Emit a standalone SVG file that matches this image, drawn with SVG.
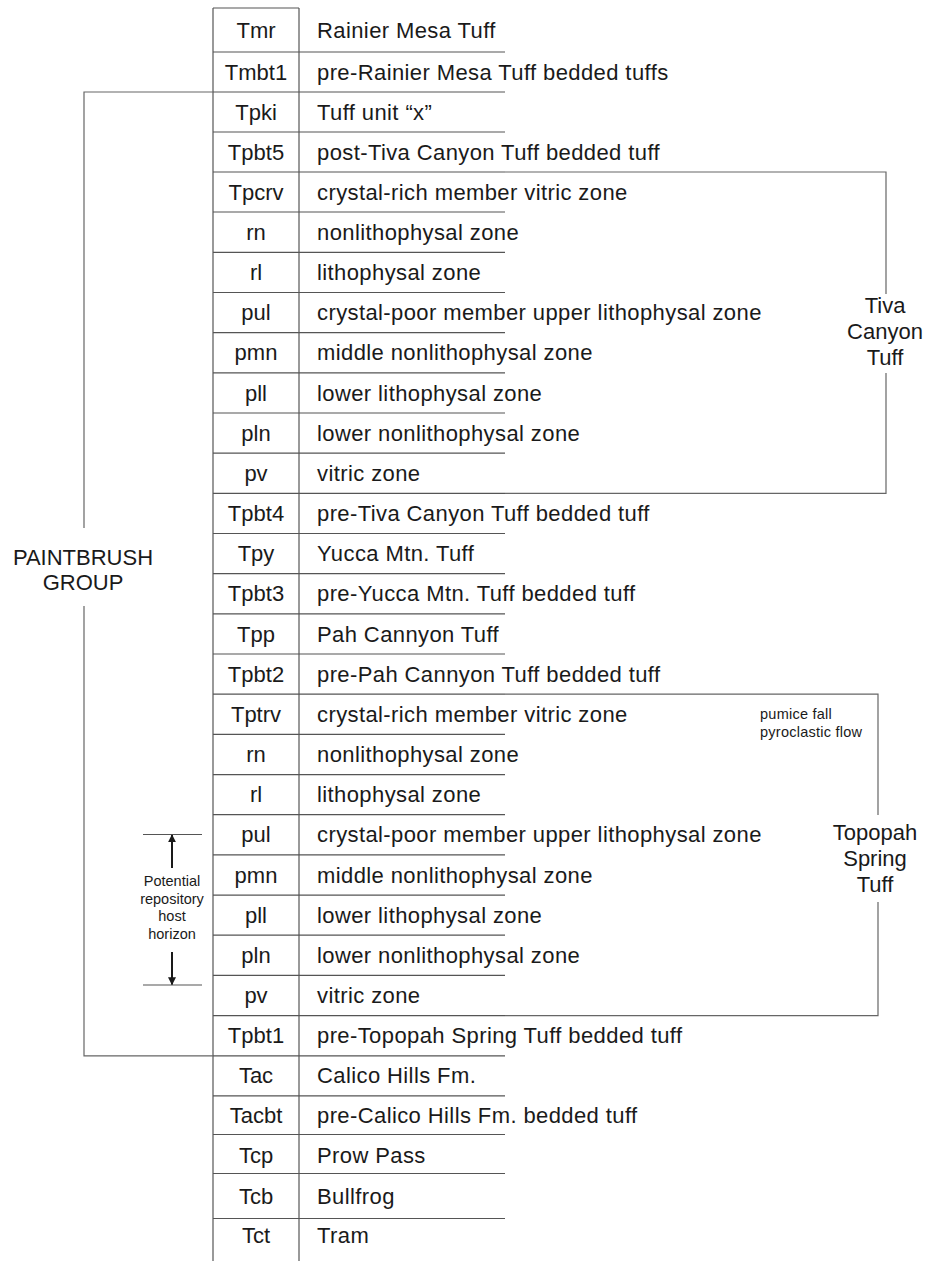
<svg xmlns="http://www.w3.org/2000/svg" width="928" height="1261" viewBox="0 0 928 1261">
<defs>
<style>
text{font-family:"Liberation Sans",Arial,sans-serif;fill:#1a1a1a}
.t{font-size:22px}
.c{text-anchor:middle}
.d text:nth-child(2){letter-spacing:0.4px}
.s{font-size:14.5px}
.p{letter-spacing:0.25px}
.ln{stroke:#555;stroke-width:1.2;fill:none}
.br{stroke:#666;stroke-width:1.2;fill:none}
</style>
<marker id="ah" viewBox="0 0 10 10" refX="9" refY="5" markerWidth="8" markerHeight="8" markerUnits="userSpaceOnUse" orient="auto"><path d="M0,0 L10,5 L0,10 Z" fill="#1a1a1a"/></marker>
</defs>
<rect width="928" height="1261" fill="#fff"/>
<g id="table-frame" class="ln">
<line x1="213" y1="8" x2="299" y2="8"/>
<line x1="213" y1="8" x2="213" y2="1261"/>
<line x1="299" y1="8" x2="299" y2="1261"/>
</g>
<g id="row-lines" class="ln">
<line x1="213" y1="52" x2="505" y2="52"/>
<line x1="213" y1="92" x2="505" y2="92"/>
<line x1="213" y1="132" x2="505" y2="132"/>
<line x1="213" y1="172" x2="505" y2="172"/>
<line x1="213" y1="212" x2="505" y2="212"/>
<line x1="213" y1="252.4" x2="505" y2="252.4"/>
<line x1="213" y1="292.5" x2="505" y2="292.5"/>
<line x1="213" y1="332.7" x2="505" y2="332.7"/>
<line x1="213" y1="372.9" x2="505" y2="372.9"/>
<line x1="213" y1="413" x2="505" y2="413"/>
<line x1="213" y1="453.2" x2="505" y2="453.2"/>
<line x1="213" y1="493.4" x2="505" y2="493.4"/>
<line x1="213" y1="533.5" x2="505" y2="533.5"/>
<line x1="213" y1="573.7" x2="505" y2="573.7"/>
<line x1="213" y1="613.9" x2="505" y2="613.9"/>
<line x1="213" y1="654" x2="505" y2="654"/>
<line x1="213" y1="694.2" x2="505" y2="694.2"/>
<line x1="213" y1="734.4" x2="505" y2="734.4"/>
<line x1="213" y1="774.6" x2="505" y2="774.6"/>
<line x1="213" y1="814.7" x2="505" y2="814.7"/>
<line x1="213" y1="854.9" x2="505" y2="854.9"/>
<line x1="213" y1="895.1" x2="505" y2="895.1"/>
<line x1="213" y1="935.2" x2="505" y2="935.2"/>
<line x1="213" y1="975.4" x2="505" y2="975.4"/>
<line x1="213" y1="1015.6" x2="505" y2="1015.6"/>
<line x1="213" y1="1055.8" x2="505" y2="1055.8"/>
<line x1="213" y1="1095.9" x2="505" y2="1095.9"/>
<line x1="213" y1="1134.5" x2="505" y2="1134.5"/>
<line x1="213" y1="1173.5" x2="505" y2="1173.5"/>
<line x1="213" y1="1218.5" x2="505" y2="1218.5"/>
</g>
<g id="rows" class="t d">
<g id="r-Tmr"><text class="c" x="256" y="37.5">Tmr</text><text x="317" y="37.5">Rainier Mesa Tuff</text></g>
<g id="r-Tmbt1"><text class="c" x="256" y="79.5">Tmbt1</text><text x="317" y="79.5">pre-Rainier Mesa Tuff bedded tuffs</text></g>
<g id="r-Tpki"><text class="c" x="256" y="119.5">Tpki</text><text x="317" y="119.5">Tuff unit “x”</text></g>
<g id="r-Tpbt5"><text class="c" x="256" y="159.5">Tpbt5</text><text x="317" y="159.5">post-Tiva Canyon Tuff bedded tuff</text></g>
<g id="r-Tpcrv"><text class="c" x="256" y="199.5">Tpcrv</text><text x="317" y="199.5">crystal-rich member vitric zone</text></g>
<g id="r-tc-rn"><text class="c" x="256" y="240">rn</text><text x="317" y="240">nonlithophysal zone</text></g>
<g id="r-tc-rl"><text class="c" x="256" y="280">rl</text><text x="317" y="280">lithophysal zone</text></g>
<g id="r-tc-pul"><text class="c" x="256" y="320">pul</text><text x="317" y="320">crystal-poor member upper lithophysal zone</text></g>
<g id="r-tc-pmn"><text class="c" x="256" y="360.3">pmn</text><text x="317" y="360.3">middle nonlithophysal zone</text></g>
<g id="r-tc-pll"><text class="c" x="256" y="400.5">pll</text><text x="317" y="400.5">lower lithophysal zone</text></g>
<g id="r-tc-pln"><text class="c" x="256" y="440.6">pln</text><text x="317" y="440.6">lower nonlithophysal zone</text></g>
<g id="r-tc-pv"><text class="c" x="256" y="480.8">pv</text><text x="317" y="480.8">vitric zone</text></g>
<g id="r-Tpbt4"><text class="c" x="256" y="521">Tpbt4</text><text x="317" y="521">pre-Tiva Canyon Tuff bedded tuff</text></g>
<g id="r-Tpy"><text class="c" x="256" y="561.1">Tpy</text><text x="317" y="561.1">Yucca Mtn. Tuff</text></g>
<g id="r-Tpbt3"><text class="c" x="256" y="601.3">Tpbt3</text><text x="317" y="601.3">pre-Yucca Mtn. Tuff bedded tuff</text></g>
<g id="r-Tpp"><text class="c" x="256" y="641.5">Tpp</text><text x="317" y="641.5">Pah Cannyon Tuff</text></g>
<g id="r-Tpbt2"><text class="c" x="256" y="681.6">Tpbt2</text><text x="317" y="681.6">pre-Pah Cannyon Tuff bedded tuff</text></g>
<g id="r-Tptrv"><text class="c" x="256" y="721.8">Tptrv</text><text x="317" y="721.8">crystal-rich member vitric zone</text></g>
<g id="r-ts-rn"><text class="c" x="256" y="762">rn</text><text x="317" y="762">nonlithophysal zone</text></g>
<g id="r-ts-rl"><text class="c" x="256" y="802.1">rl</text><text x="317" y="802.1">lithophysal zone</text></g>
<g id="r-ts-pul"><text class="c" x="256" y="842.3">pul</text><text x="317" y="842.3">crystal-poor member upper lithophysal zone</text></g>
<g id="r-ts-pmn"><text class="c" x="256" y="882.5">pmn</text><text x="317" y="882.5">middle nonlithophysal zone</text></g>
<g id="r-ts-pll"><text class="c" x="256" y="922.6">pll</text><text x="317" y="922.6">lower lithophysal zone</text></g>
<g id="r-ts-pln"><text class="c" x="256" y="962.8">pln</text><text x="317" y="962.8">lower nonlithophysal zone</text></g>
<g id="r-ts-pv"><text class="c" x="256" y="1003">pv</text><text x="317" y="1003">vitric zone</text></g>
<g id="r-Tpbt1"><text class="c" x="256" y="1043.2">Tpbt1</text><text x="317" y="1043.2">pre-Topopah Spring Tuff bedded tuff</text></g>
<g id="r-Tac"><text class="c" x="256" y="1083.3">Tac</text><text x="317" y="1083.3">Calico Hills Fm.</text></g>
<g id="r-Tacbt"><text class="c" x="256" y="1122.5">Tacbt</text><text x="317" y="1122.5">pre-Calico Hills Fm. bedded tuff</text></g>
<g id="r-Tcp"><text class="c" x="256" y="1162.5">Tcp</text><text x="317" y="1162.5">Prow Pass</text></g>
<g id="r-Tcb"><text class="c" x="256" y="1203.5">Tcb</text><text x="317" y="1203.5">Bullfrog</text></g>
<g id="r-Tct"><text class="c" x="256" y="1243">Tct</text><text x="317" y="1243">Tram</text></g>
</g>
<g id="connectors">
<path class="br" d="M213,92 H84 V528 M84,606 V1055.8 H213"/>
<path class="br" d="M505,172 H886 V294 M886,373 V493.4 H505"/>
<path class="br" d="M505,694.2 H878 V815 M878,902 V1015.6 H505"/>
<line class="ln" x1="143" y1="834.5" x2="202" y2="834.5"/>
<line class="ln" x1="143" y1="985" x2="202" y2="985"/>
<line x1="172" y1="868" x2="172" y2="835" stroke="#1a1a1a" stroke-width="2" marker-end="url(#ah)"/>
<line x1="172" y1="952" x2="172" y2="984.5" stroke="#1a1a1a" stroke-width="2" marker-end="url(#ah)"/>
</g>
<g id="paintbrush-group" class="t c"><text x="83" y="565">PAINTBRUSH</text><text x="83" y="590">GROUP</text></g>
<g id="tiva-canyon-tuff" class="t c"><text x="885" y="313">Tiva</text><text x="885" y="339">Canyon</text><text x="885" y="365">Tuff</text></g>
<g id="topopah-spring-tuff" class="t c"><text x="875" y="840">Topopah</text><text x="875" y="866">Spring</text><text x="875" y="892">Tuff</text></g>
<g id="pumice-note" class="s p"><text x="760" y="719">pumice fall</text><text x="760" y="737">pyroclastic flow</text></g>
<g id="repository-horizon" class="s c"><text x="172" y="886">Potential</text><text x="172" y="903.5">repository</text><text x="172" y="921">host</text><text x="172" y="938.5">horizon</text></g>
</svg>
